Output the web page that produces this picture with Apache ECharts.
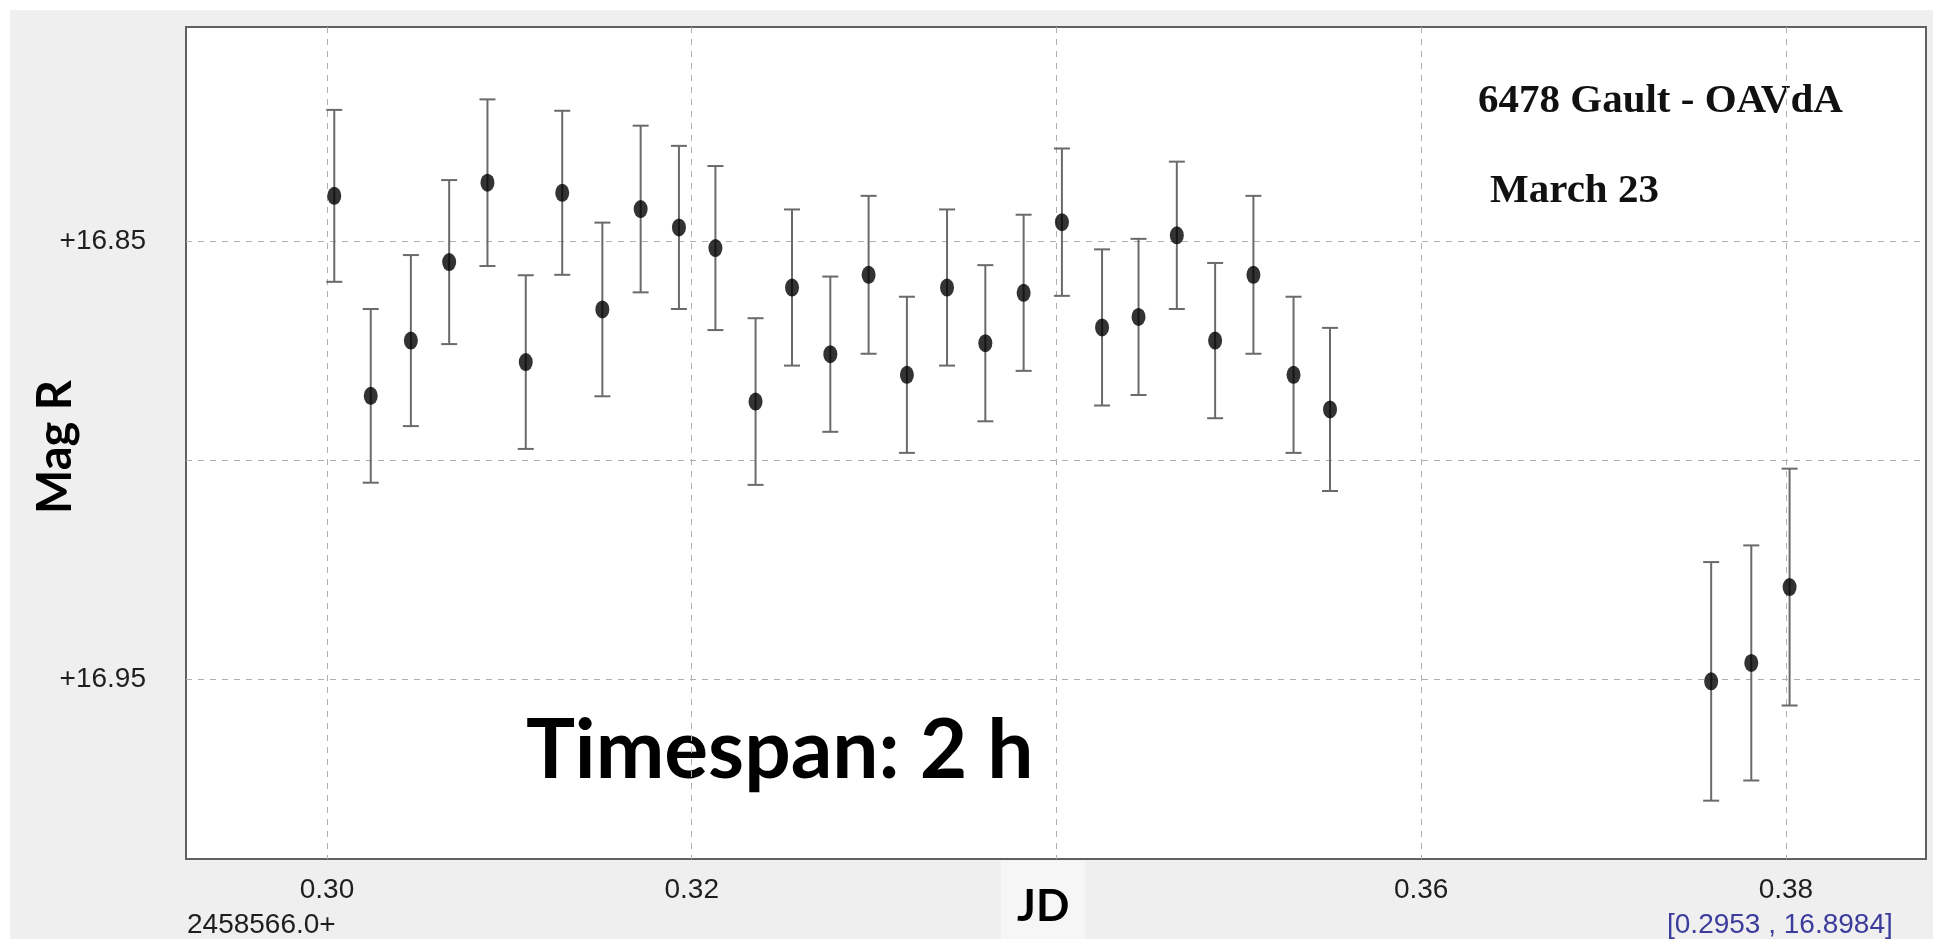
<!DOCTYPE html>
<html>
<head>
<meta charset="utf-8">
<script src="https://cdn.jsdelivr.net/npm/echarts@6/dist/echarts.min.js"></script>
<style>
html,body{margin:0;padding:0;background:#fff;}
#chart{width:1933px;height:939px;
 background: linear-gradient(#efefef,#efefef) no-repeat 10px 10px / 1923px 929px, #fff;}
</style>
</head>
<body>
<div id="chart"></div>
<script>
// Julian date offsets (JD - 2458566.0)
const jd = [0.3004,0.3024,0.3046,0.3067,0.3088,0.3109,0.3129,0.3151,0.3172,0.3193,
            0.3213,0.3235,0.3255,0.3276,0.3297,0.3318,0.3340,0.3361,0.3382,0.3403,
            0.3425,0.3445,0.3466,0.3487,0.3508,0.3530,0.3550,0.3759,0.3781,0.3802];
// R magnitudes
const mag = [16.8397,16.8853,16.8727,16.8548,16.8367,16.8776,16.8390,16.8656,16.8427,16.8469,
             16.8516,16.8866,16.8606,16.8758,16.8577,16.8805,16.8606,16.8733,16.8618,16.8457,
             16.8697,16.8673,16.8487,16.8727,16.8577,16.8805,16.8884,16.9504,16.9462,16.9289];
// magnitude errors (half bar length)
const err = [0.0196,0.0198,0.0195,0.0187,0.0190,0.0198,0.0187,0.0198,0.0190,0.0186,
             0.0187,0.0190,0.0178,0.0177,0.0180,0.0178,0.0178,0.0178,0.0178,0.0168,
             0.0178,0.0178,0.0168,0.0177,0.0180,0.0178,0.0186,0.0272,0.0268,0.0270];
const xTicks = [0.30,0.32,0.34,0.36,0.38];
const yGrid = [16.85,16.90,16.95];
const yLabels = [16.85,16.95];

const points = jd.map((x,i)=>[x, mag[i]]);
const bars = jd.map((x,i)=>[x, mag[i]-err[i], mag[i]+err[i]]);

const chart = echarts.init(document.getElementById('chart'), null, {renderer:'canvas'});
const tickFont = "'Liberation Sans',Arial,sans-serif";
const gridStyle = {color:'#b0b0b0', width:1, type:[6,6]};

function renderBar(params, api){
  const x = api.value(0);
  const p1 = api.coord([x, api.value(1)]);
  const p2 = api.coord([x, api.value(2)]);
  const w = 8;
  const st = {stroke:'#6a6a6a', lineWidth:2};
  return {type:'group', children:[
    {type:'line', shape:{x1:p1[0],y1:p1[1],x2:p2[0],y2:p2[1]}, style:st},
    {type:'line', shape:{x1:p1[0]-w,y1:p1[1],x2:p1[0]+w,y2:p1[1]}, style:st},
    {type:'line', shape:{x1:p2[0]-w,y1:p2[1],x2:p2[0]+w,y2:p2[1]}, style:st}
  ]};
}

chart.setOption({
  backgroundColor:'transparent',
  animation:false,
  grid:{left:186, top:27, right:7, bottom:80, show:true, backgroundColor:'#fff',
        borderColor:'#606060', borderWidth:2, containLabel:false, outerBoundsMode:'none'},
  xAxis:{type:'value', min:0.29227, max:0.38768,
    axisLine:{show:false}, axisTick:{show:false, customValues:xTicks},
    splitLine:{show:true, lineStyle:gridStyle},
    axisLabel:{customValues:xTicks, formatter:v=>v.toFixed(2), margin:17,
      fontFamily:tickFont, fontSize:28, color:'#1e1e1e'}
  },
  yAxis:{type:'value', inverse:true, min:16.8012, max:16.9909,
    axisLine:{show:false}, axisTick:{show:false, customValues:yGrid},
    splitLine:{show:true, lineStyle:gridStyle},
    axisLabel:{customValues:yLabels, formatter:v=>'+'+v.toFixed(2), margin:40,
      fontFamily:tickFont, fontSize:28, color:'#1e1e1e'}
  },
  series:[
    {type:'custom', renderItem:renderBar, data:bars, z:2, encode:{x:0,y:[1,2]}},
    {type:'scatter', data:points, symbol:'circle', symbolSize:[14,18],
     itemStyle:{color:'#000'}, z:3}
  ],
  graphic:[
    {type:'text', x:56, y:447, rotation:Math.PI/2,
     style:{text:'Mag R', font:"bold 47px Lato", fill:'#000', align:'center', verticalAlign:'middle'}},
    {type:'rect', left:1001, top:861, z:100, shape:{width:84,height:78}, style:{fill:'#f6f6f6'}},
    {type:'text', left:1017, top:885, z:101, style:{text:'JD', font:"bold 44px Lato", fill:'#000'}},
    {type:'text', left:1478, top:81, style:{text:'6478 Gault - OAVdA', font:"bold 41px 'Liberation Serif'", fill:'#111'}},
    {type:'text', left:1490, top:171, style:{text:'March 23', font:"bold 41px 'Liberation Serif'", fill:'#111'}},
    {type:'text', left:526, top:711, style:{text:'Timespan: 2 h', font:"bold 82px Lato", fill:'#000'}},
    {type:'text', left:187, top:911, style:{text:'2458566.0+', font:"28px "+tickFont, fill:'#1e1e1e'}},
    {type:'text', left:1667, top:911, style:{text:'[0.2953 , 16.8984]', font:"28px "+tickFont, fill:'#3c3c9c'}}
  ]
});
</script>
</body>
</html>
